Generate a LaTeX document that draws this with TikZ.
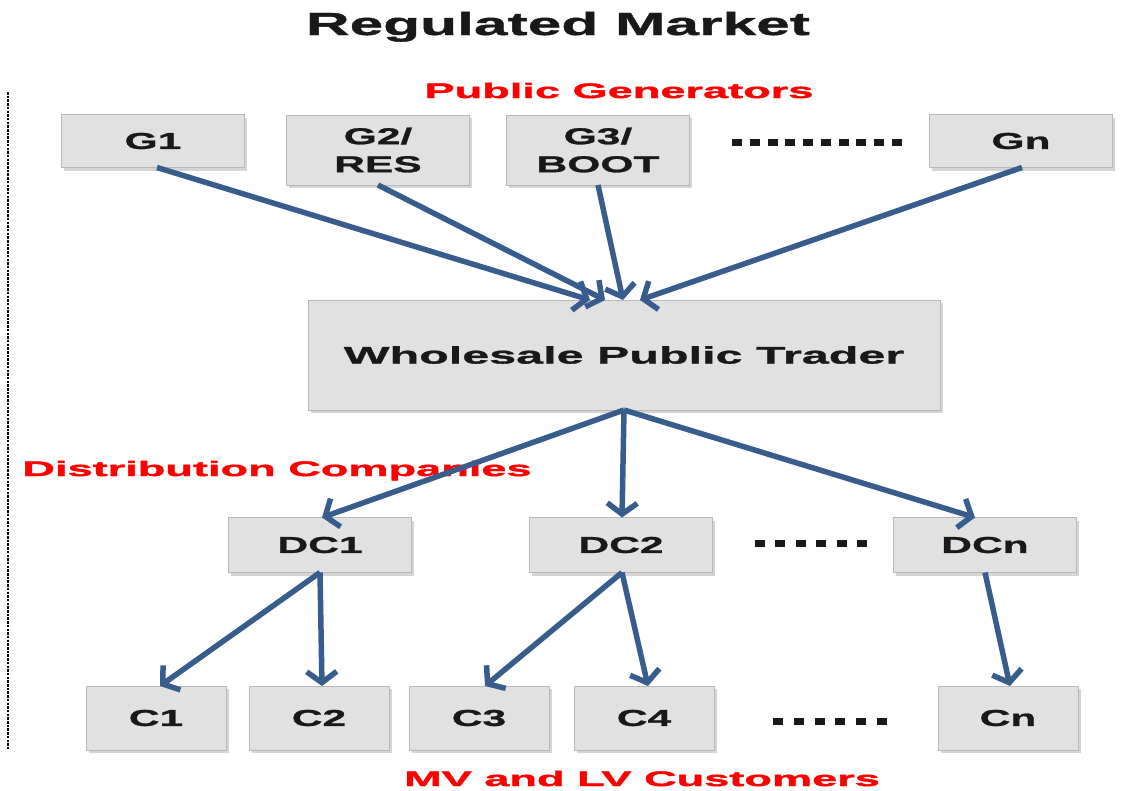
\documentclass[tikz,border=0pt]{standalone}
\usepackage{fontspec}
\usetikzlibrary{arrows.meta,shadows}
\newfontfamily\boxfont[FakeStretch=1.85, BoldFeatures={FakeBold=1.2}]{Liberation Sans}
\newfontfamily\traderfont[FakeStretch=2.02, BoldFeatures={FakeBold=1.2}]{Liberation Sans}
\newfontfamily\titlefont[FakeStretch=1.89, BoldFeatures={FakeBold=1.2}]{Liberation Sans}
\newfontfamily\groupfont[FakeStretch=2.15, BoldFeatures={FakeBold=2}]{Liberation Sans}
\definecolor{flowblue}{RGB}{56,93,140}
\definecolor{boxgray}{RGB}{225,225,225}
\definecolor{groupred}{RGB}{255,0,0}
\tikzset{
	unit/.style={draw=gray!55, fill=boxgray, inner sep=0pt, outer sep=0pt, align=center,
		minimum width=183pt, minimum height=53pt, text=black!90,
		font=\boxfont\bfseries\fontsize{23}{28}\selectfont,
		drop shadow={shadow xshift=2.5pt, shadow yshift=-3pt, fill=gray!65}},
	flow/.style={draw=flowblue, line width=5.5pt, -{Straight Barb[length=11pt,width=30pt]}},
	group/.style={text=groupred, anchor=base, font=\groupfont\bfseries\fontsize{21}{24}\selectfont},
	dotrow/.style={line width=7pt, draw=black!90}
}
\begin{document}
\begin{tikzpicture}[x=1pt,y=-1pt]
		\useasboundingbox (0,0) rectangle (1130,790);
		\node[anchor=base, font=\titlefont\bfseries\fontsize{32}{36}\selectfont, text=black!90] (title) at (558,35) {Regulated Market};
		
		\node[group] (pubgen) at (619,98) {Public Generators};
		\node[group] (distco) at (277,476) {Distribution Companies};
		\node[group] (cust) at (642,786) {MV and LV Customers};
		
		\node[unit] (G1) at (153,141) {G1};
		\node[unit, minimum height=70pt] (G2) at (378,150) {G2/\\RES};
		\node[unit, minimum height=70pt] (G3) at (598,150) {G3/\\BOOT};
		\node[unit] (Gn) at (1021,141) {Gn};
		
		\node[unit, minimum width=632pt, minimum height=110pt, font=\traderfont\bfseries\fontsize{24}{28}\selectfont] (T) at (624,355) {Wholesale Public Trader};
		
		\node[unit, minimum height=55pt] (DC1) at (320,545) {DC1};
		\node[unit, minimum height=55pt] (DC2) at (621,545) {DC2};
		\node[unit, minimum height=55pt] (DCn) at (985,545) {DCn};
		
		\node[unit, minimum width=140pt, minimum height=64pt] (C1) at (156,718) {C1};
		\node[unit, minimum width=140pt, minimum height=64pt] (C2) at (319,718) {C2};
		\node[unit, minimum width=140pt, minimum height=64pt] (C3) at (479,718) {C3};
		\node[unit, minimum width=140pt, minimum height=64pt] (C4) at (644,718) {C4};
		\node[unit, minimum width=140pt, minimum height=64pt] (Cn) at (1008,718) {Cn};
		
		% ellipsis rows
		\coordinate (gdotsL) at (732,142);
		\coordinate (gdotsR) at (902,142);
		\coordinate (ddotsL) at (755,543);
		\coordinate (ddotsR) at (867,543);
		\coordinate (cdotsL) at (773,721);
		\coordinate (cdotsR) at (887,721);
		\draw[dotrow, dash pattern=on 10pt off 7.78pt] (gdotsL) -- (gdotsR);
		\draw[dotrow, dash pattern=on 10pt off 10.4pt] (ddotsL) -- (ddotsR);
		\draw[dotrow, dash pattern=on 10pt off 10.8pt] (cdotsL) -- (cdotsR);
		
		\draw[line width=2.5pt, dash pattern=on 2.5pt off 1.2pt] (8,92) -- (8,750);
		
		\draw[flow] ([xshift=4pt]G1.south) -- ([xshift=-34pt]T.north);
		\draw[flow] (G2.south) -- ([xshift=-19pt]T.north);
		\draw[flow] (G3.south) -- ([xshift=-1pt]T.north);
		\draw[flow] ([xshift=1pt]Gn.south) -- ([xshift=16pt]T.north);
		
		\draw[flow] (T.south) -- ([xshift=2pt]DC1.north);
		\draw[flow] (T.south) -- ([xshift=1pt]DC2.north);
		\draw[flow] (T.south) -- ([xshift=-10pt]DCn.north);
		
		\draw[flow] (DC1.south) -- ([xshift=4pt]C1.north);
		\draw[flow] (DC1.south) -- ([xshift=3pt]C2.north);
		\draw[flow] ([xshift=1pt]DC2.south) -- ([xshift=6pt]C3.north);
		\draw[flow] ([xshift=1pt]DC2.south) -- ([xshift=4pt]C4.north);
		\draw[flow] (DCn.south) -- ([xshift=2pt]Cn.north);
\end{tikzpicture}
\end{document}
